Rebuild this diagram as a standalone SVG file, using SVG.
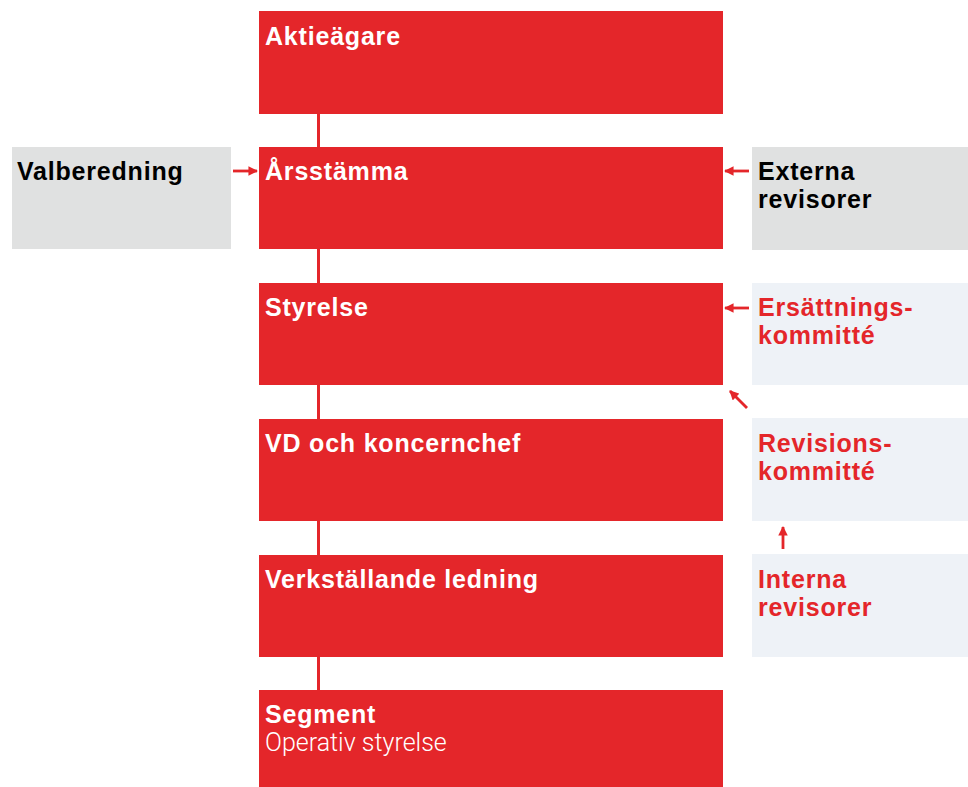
<svg xmlns="http://www.w3.org/2000/svg" width="968" height="787" viewBox="0 0 968 787">
<style>
.red{fill:#E4262A}
.gray{fill:#E0E1E1}
.blue{fill:#EEF2F7}
.t{font-family:"Liberation Sans",Arial,sans-serif;font-weight:bold;font-size:25px;letter-spacing:0.8px}
.w{fill:#fff}
.k{fill:#000}
.r{fill:#E4262A}
.light{font-family:Roboto,"Liberation Sans",sans-serif;font-weight:300;font-size:25px;fill:#fff}
.c{stroke:#E4262A;stroke-width:2.8;fill:none}
</style>
<defs>
<marker id="ah" viewBox="0 0 10 10" refX="9" refY="5" markerWidth="3.6" markerHeight="3.4" orient="auto" markerUnits="strokeWidth">
<path d="M0,0 L10,5 L0,10 Z" fill="#E4262A"/>
</marker>
</defs>
<g id="connectors">
<rect x="317" y="114" width="3" height="576" class="red"/>
<line x1="233" y1="171" x2="257" y2="171" class="c" marker-end="url(#ah)"/>
<line x1="749" y1="171" x2="725" y2="171" class="c" marker-end="url(#ah)"/>
<line x1="749" y1="308" x2="725" y2="308" class="c" marker-end="url(#ah)"/>
<line x1="747" y1="408" x2="730" y2="391" class="c" marker-end="url(#ah)"/>
<line x1="783" y1="549" x2="783" y2="527" class="c" marker-end="url(#ah)"/>
</g>
<g id="aktieagare"><rect x="259" y="11" width="464" height="103" class="red"/><text x="265" y="45" class="t w">Aktieägare</text></g>
<g id="arsstamma"><rect x="259" y="147" width="464" height="102" class="red"/><text x="265" y="180" class="t w">Årsstämma</text></g>
<g id="styrelse"><rect x="259" y="283" width="464" height="102" class="red"/><text x="265" y="316" class="t w">Styrelse</text></g>
<g id="vd"><rect x="259" y="419" width="464" height="102" class="red"/><text x="265" y="452" class="t w">VD och koncernchef</text></g>
<g id="ledning"><rect x="259" y="555" width="464" height="102" class="red"/><text x="265" y="588" class="t w">Verkställande ledning</text></g>
<g id="segment"><rect x="259" y="690" width="464" height="97" class="red"/><text x="265" y="723" class="t w">Segment</text><text x="265" y="751" class="light">Operativ styrelse</text></g>
<g id="valberedning"><rect x="12" y="147" width="219" height="102" class="gray"/><text x="17" y="180" class="t k">Valberedning</text></g>
<g id="externa"><rect x="752" y="147" width="216" height="103" class="gray"/><text x="758" y="180" class="t k">Externa</text><text x="758" y="208" class="t k">revisorer</text></g>
<g id="ersattning"><rect x="752" y="283" width="216" height="102" class="blue"/><text x="758" y="316" class="t r">Ersättnings-</text><text x="758" y="344" class="t r">kommitté</text></g>
<g id="revision"><rect x="752" y="418" width="216" height="103" class="blue"/><text x="758" y="452" class="t r">Revisions-</text><text x="758" y="480" class="t r">kommitté</text></g>
<g id="interna"><rect x="752" y="554" width="216" height="103" class="blue"/><text x="758" y="588" class="t r">Interna</text><text x="758" y="616" class="t r">revisorer</text></g>
</svg>
